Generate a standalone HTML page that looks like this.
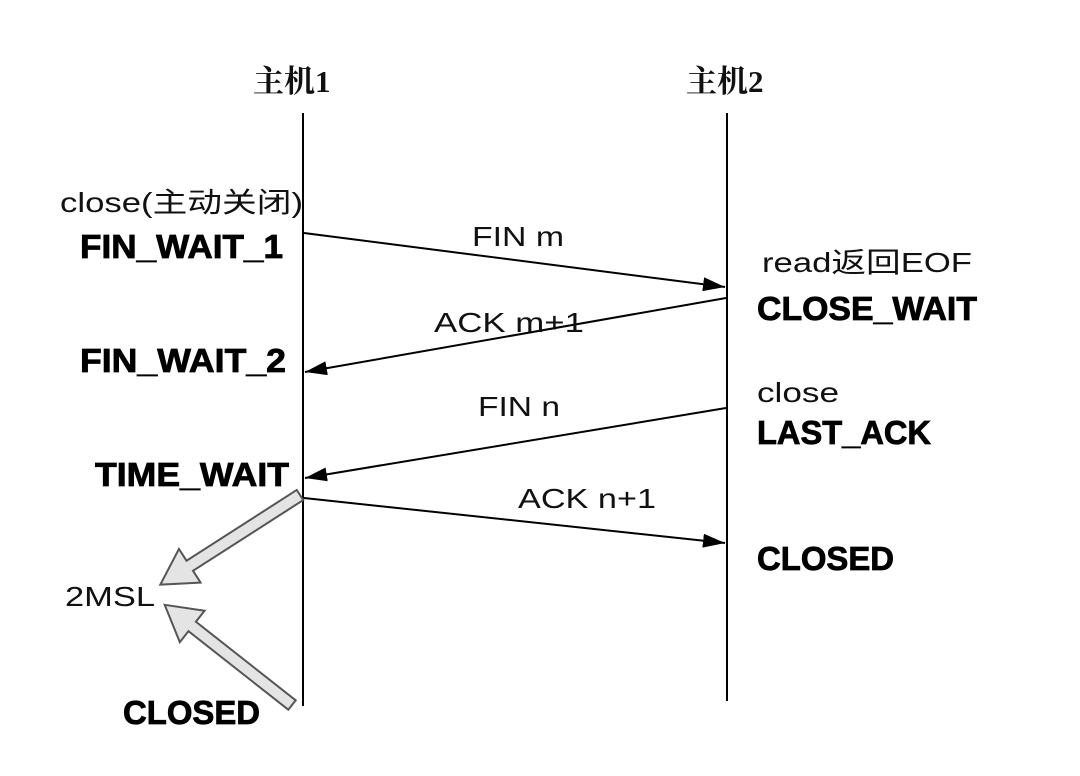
<!DOCTYPE html>
<html><head><meta charset="utf-8"><style>
html,body{margin:0;padding:0;background:#fff;}
svg{display:block;}
.n{font-family:"Liberation Sans","Noto Sans CJK SC",sans-serif;font-size:28px;fill:#111;}
.b{font-family:"Liberation Sans",sans-serif;font-weight:bold;font-size:33px;fill:#000;stroke:#000;stroke-width:0.8px;}
.h{font-family:"Liberation Serif","Noto Serif CJK SC",serif;font-size:31px;font-weight:bold;fill:#111;}
</style></head><body>
<svg width="1080" height="776" viewBox="0 0 1080 776" xmlns="http://www.w3.org/2000/svg">
<defs>
<marker id="m" markerWidth="22" markerHeight="14" refX="22" refY="7" orient="auto" markerUnits="userSpaceOnUse" viewBox="0 0 22 14"><path d="M0,0 L22,7 L0,14 Z" fill="#000"/></marker></defs>
<text class="h" x="253" y="92">主机1</text>
<text class="h" x="686" y="92">主机2</text>
<line x1="303" y1="113" x2="303" y2="706" stroke="#000" stroke-width="2"/>
<line x1="727" y1="113" x2="727" y2="701" stroke="#000" stroke-width="2"/>
<line x1="304" y1="233" x2="725" y2="287" stroke="#000" stroke-width="2" marker-end="url(#m)"/>
<line x1="726" y1="298" x2="305" y2="372" stroke="#000" stroke-width="2" marker-end="url(#m)"/>
<line x1="726" y1="408" x2="305" y2="478" stroke="#000" stroke-width="2" marker-end="url(#m)"/>
<line x1="304" y1="498" x2="725" y2="543" stroke="#000" stroke-width="2" marker-end="url(#m)"/>
<g transform="translate(300,495) rotate(147.3)"><polygon points="0,-6 131,-6 131,-20 166,0 131,20 131,6 0,6" fill="#e4e4e4" stroke="#555" stroke-width="2"/></g>
<g transform="translate(292,705) rotate(218.2)"><polygon points="0,-6 127,-6 127,-20 162,0 127,20 127,6 0,6" fill="#e4e4e4" stroke="#555" stroke-width="2"/></g>
<text class="n" x="60" y="212" textLength="243" lengthAdjust="spacingAndGlyphs">close(主动关闭)</text>
<text class="b" x="80" y="258" textLength="203" lengthAdjust="spacingAndGlyphs">FIN_WAIT_1</text>
<text class="n" x="472" y="246" textLength="92" lengthAdjust="spacingAndGlyphs">FIN m</text>
<text class="n" x="762" y="272" textLength="210" lengthAdjust="spacingAndGlyphs">read返回EOF</text>
<text class="b" x="757" y="320" textLength="220" lengthAdjust="spacingAndGlyphs">CLOSE_WAIT</text>
<text class="n" x="434" y="332" textLength="150" lengthAdjust="spacingAndGlyphs">ACK m+1</text>
<text class="b" x="80" y="372" textLength="206" lengthAdjust="spacingAndGlyphs">FIN_WAIT_2</text>
<text class="n" x="757" y="402" textLength="82" lengthAdjust="spacingAndGlyphs">close</text>
<text class="n" x="478" y="416" textLength="82" lengthAdjust="spacingAndGlyphs">FIN n</text>
<text class="b" x="757" y="444" textLength="174" lengthAdjust="spacingAndGlyphs">LAST_ACK</text>
<text class="b" x="95" y="486" textLength="194" lengthAdjust="spacingAndGlyphs">TIME_WAIT</text>
<text class="n" x="518" y="508" textLength="138" lengthAdjust="spacingAndGlyphs">ACK n+1</text>
<text class="b" x="757" y="570" textLength="137" lengthAdjust="spacingAndGlyphs">CLOSED</text>
<text class="n" x="65" y="606" textLength="90" lengthAdjust="spacingAndGlyphs">2MSL</text>
<text class="b" x="123" y="724" textLength="137" lengthAdjust="spacingAndGlyphs">CLOSED</text>
</svg>
</body></html>
